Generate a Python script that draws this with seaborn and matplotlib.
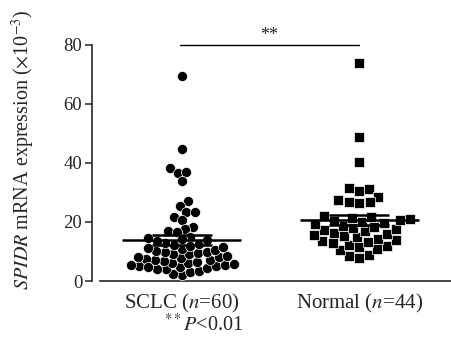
import numpy as np
import pandas as pd
import seaborn as sns
import matplotlib.pyplot as plt
from matplotlib.markers import MarkerStyle
from matplotlib.transforms import Affine2D

# --- data (x10^-3) ---
GROUPS = ['SCLC ($\\mathit{n}$=60)', 'Normal ($\\mathit{n}$=44)']

sclc_values = [69.5, 44.9, 38.2, 36.5, 37.0, 34.0, 27.0, 25.5, 23.3, 23.4,
               21.6, 20.7, 18.4, 17.6, 17.0, 16.5, 15.0,
               2.0, 2.4, 3.2, 3.5, 4.0, 4.2, 4.5, 4.8, 5.0, 5.2,
               5.4, 5.5, 5.8, 6.0, 6.2, 6.5, 6.8, 7.0, 7.2, 7.5,
               7.8, 8.0, 8.3, 8.6, 9.0, 9.2, 9.5, 9.8, 10.0, 10.3,
               10.6, 11.0, 11.3, 11.6, 12.0, 12.3, 12.6, 13.0, 13.4, 13.8,
               14.2, 14.5, 4.6]

normal_values = [73.8, 48.9, 40.4, 31.2, 28.6, 30.6, 31.4, 26.7, 26.7, 26.5, 27.5,
                 8.8, 7.9, 8.5,
                 10.5, 11.0, 11.5, 12.0, 12.3, 12.8, 13.2, 13.5, 14.0, 14.4,
                 14.8, 15.2, 15.6, 16.0, 16.4, 16.8, 17.2, 17.6, 18.0, 18.4,
                 18.8, 19.2, 19.6, 20.0, 20.5, 21.0, 21.8, 20.8, 21.5, 22.0]

y_ticks = [0, 20, 40, 60, 80]

df = pd.DataFrame({
    'group': [GROUPS[0]] * len(sclc_values) + [GROUPS[1]] * len(normal_values),
    'value': sclc_values + normal_values,
})

sns.set_style('ticks')
plt.rcParams['font.family'] = ['Liberation Serif', 'DejaVu Serif']
plt.rcParams['mathtext.fontset'] = 'stix'

fig = plt.figure(figsize=(4.52, 3.53), dpi=100)
ax = fig.add_axes([92 / 452, 72 / 353, 360 / 452, 236 / 353])

# markers drawn larger than the swarm spacing so they overlap like a Prism dot plot
circle = MarkerStyle('o', transform=Affine2D().scale(1.3))
square = MarkerStyle('s', transform=Affine2D().scale(1.05))

sns.swarmplot(data=df[df.group == GROUPS[0]], x='group', y='value', order=GROUPS,
              marker=circle, size=5.6, color='black', edgecolor='white', linewidth=0.5,
              ax=ax, warn_thresh=1.0, clip_on=False)
sns.swarmplot(data=df[df.group == GROUPS[1]], x='group', y='value', order=GROUPS,
              marker=square, size=6.7, color='black', edgecolor='white', linewidth=0.5,
              ax=ax, warn_thresh=1.0, clip_on=False)

# mean +/- SEM lines
for i, g in enumerate(GROUPS):
    v = df.loc[df.group == g, 'value'].to_numpy()
    m = v.mean()
    sem = v.std(ddof=1) / np.sqrt(len(v))
    ax.hlines(m, i - 0.336, i + 0.336, color='black', lw=1.8, zorder=5)
    ax.hlines([m - sem, m + sem], i - 0.17, i + 0.17, color='black', lw=1.8, zorder=5)

# significance bracket
ax.plot([-0.01, 1.0], [80, 80], color='black', lw=1.0, clip_on=False)
ax.text(0.49, 80.3, '**', ha='center', va='bottom', fontsize=13)

ax.set_xlim(-0.508, 1.525)
ax.set_ylim(0, 80)
ax.set_yticks(y_ticks)
ax.tick_params(axis='y', labelsize=13.5, length=5, width=1.1, pad=2)
ax.tick_params(axis='x', labelsize=15, length=0, pad=8)
ax.set_xlabel('')
ax.set_ylabel('')
sns.despine(ax=ax)
ax.spines['left'].set_linewidth(1.2)
ax.spines['bottom'].set_linewidth(1.2)
ax.spines['bottom'].set_bounds(-0.463, 1.525)

fig.text(23 / 452, 1 - 150 / 353,
         '$\\mathit{SPIDR}$ mRNA expression ($\\times$10$^{-3}$)',
         rotation=90, ha='center', va='center', fontsize=14.5)
fig.text(204 / 452, 1 - 325 / 353, '$^{**}\\mathit{P}$<0.01',
         ha='center', va='center', fontsize=14.5)

fig.savefig('out.png', dpi=100)
